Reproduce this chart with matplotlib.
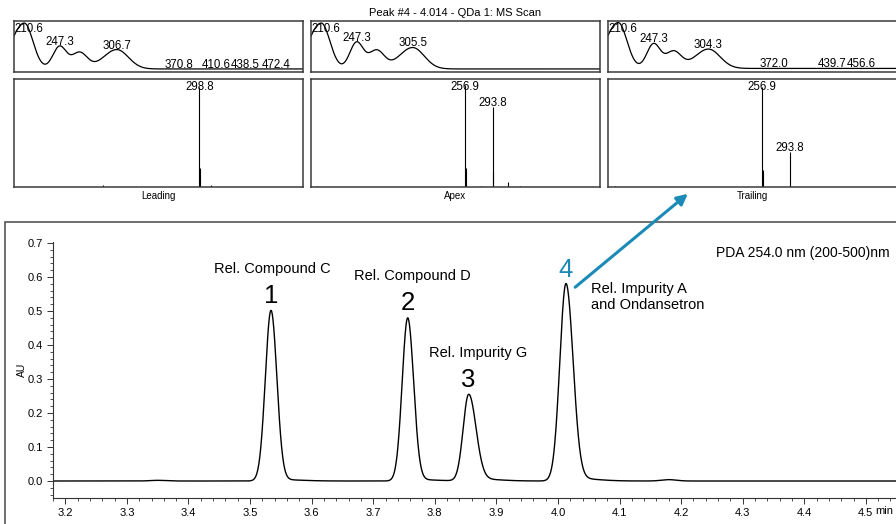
import numpy as np
import matplotlib.pyplot as plt
from matplotlib.patches import Rectangle, FancyArrowPatch
from matplotlib.ticker import MultipleLocator, FormatStrFormatter
from matplotlib.transforms import Affine2D

plt.rcParams['font.family'] = ['Liberation Sans', 'DejaVu Sans']

W, H = 896, 524
BLUE = '#1b8ab6'
EDGE = '#3a3a3a'

# --- chromatogram peak table (PDA 254 nm) ---
peak_nums = ['1', '2', '3', '4']
peak_names = ['Rel. Compound C', 'Rel. Compound D', 'Rel. Impurity G',
              'Rel. Impurity A\nand Ondansetron']
peak_rt = [3.534, 3.756, 3.855, 4.013]
peak_height = [0.500, 0.478, 0.252, 0.577]
peak_sigma_front = [0.0092, 0.0090, 0.0090, 0.0100]
peak_sigma_tail = [0.0095, 0.0096, 0.0118, 0.0115]
peak_tail_height = [0.004, 0.004, 0.006, 0.008]
bump_rt = [3.35, 4.18]
bump_height = [0.002, 0.004]

# --- UV spectra (leading / apex / trailing) as absorption bands ---
uv_center = [210.6, 247.3, 268.0]
uv_center_last = [306.7, 305.5, 304.3]
uv_heights = [[0.90, 0.44, 0.32, 0.38],
              [0.90, 0.52, 0.36, 0.42],
              [0.90, 0.48, 0.33, 0.38]]
uv_base = [0.06, 0.06, 0.07]
uv_labels = [[210.6, 247.3, 306.7, 370.8, 410.6, 438.5, 472.4],
             [210.6, 247.3, 305.5],
             [210.6, 247.3, 304.3, 372.0, 439.7, 456.6]]

# --- MS spectra (m/z, relative intensity) ---
ms_mz = [[169.0, 298.8, 299.8, 314.0],
         [58.0, 256.9, 257.9, 278.0, 293.8, 294.8, 314.0, 330.0],
         [60.0, 256.9, 257.9, 293.8]]
ms_int = [[0.02, 0.93, 0.18, 0.02],
          [0.01, 0.94, 0.18, 0.01, 0.74, 0.15, 0.05, 0.01],
          [0.01, 0.93, 0.16, 0.32]]
ms_labels = [[298.8], [256.9, 293.8], [256.9, 293.8]]
panel_names = ['Leading', 'Apex', 'Trailing']


def bigauss(x, c, h, sl, sr):
    s = np.where(x < c, sl, sr)
    return h * np.exp(-0.5 * ((x - c) / s) ** 2)


def px_axes(x0, y0, x1, y1):
    return fig.add_axes([x0 / W, 1 - y1 / H, (x1 - x0) / W, (y1 - y0) / H])


def uv_curve(x, i):
    centers = uv_center + [uv_center_last[i]]
    widths = [(13, 9), (7, 7), (8, 8), (14, 12)]
    y = np.full_like(x, uv_base[i])
    for c, h, (sl, sr) in zip(centers, uv_heights[i], widths):
        y += bigauss(x, c, h, sl, sr)
    return y


fig = plt.figure(figsize=(W / 100, H / 100), dpi=100)

fig.text(455 / W, 1 - 13 / H, 'Peak #4 - 4.014 - QDa 1: MS Scan',
         ha='center', va='center', fontsize=8)

panel_x = [(14, 303), (311, 600), (608, 897)]
wl = np.linspace(200, 500, 1201)
uv_axes = []
uv_texts = []
for i, (x0, x1) in enumerate(panel_x):
    # UV spectrum
    ax = px_axes(x0, 21, x1, 72)
    uv = uv_curve(wl, i)
    ax.plot(wl, uv, color='black', lw=0.9)
    ax.set_xlim(200, 500)
    ax.set_ylim(0, 1)
    texts = []
    for lam in uv_labels[i]:
        yv = uv_curve(np.array([lam]), i)[0]
        if lam < 215:
            ax.text(200.5, 0.97, f'{lam:.1f}', ha='left', va='top', fontsize=8.3)
        else:
            texts.append(ax.text(lam, yv + 0.02, f'{lam:.1f}', ha='center',
                                 va='baseline', fontsize=8.3))
    uv_axes.append(ax)
    uv_texts.append(texts)
    # MS spectrum
    ax2 = px_axes(x0, 79, x1, 187)
    ax2.vlines(ms_mz[i], 0, ms_int[i], color='black', lw=0.8)
    ax2.set_xlim(50, 438)
    ax2.set_ylim(0, 1)
    for mz in ms_labels[i]:
        inten = ms_int[i][ms_mz[i].index(mz)]
        if inten > 0.85:
            ax2.text(mz, 0.98, f'{mz:.1f}', ha='center', va='top', fontsize=8.3)
        else:
            ax2.text(mz, inten + 0.01, f'{mz:.1f}', ha='center', va='baseline', fontsize=8.3)
    for a in (ax, ax2):
        a.set_xticks([])
        a.set_yticks([])
        for s in a.spines.values():
            s.set_color(EDGE)
            s.set_linewidth(1.1)
    fig.text((x0 + x1) / 2 / W, 1 - 196 / H, panel_names[i],
             ha='center', va='center', fontsize=7)

# outer frame of the chromatogram panel
fig.add_artist(Rectangle((5 / W, -0.1), 1.2, 1 - 222 / H + 0.1,
                         transform=fig.transFigure, fill=False,
                         ec='#555555', lw=1.2))

# chromatogram
ax = px_axes(53, 242, 896, 498)
t = np.linspace(3.18, 4.56, 3000)
au = np.zeros_like(t)
for rt, h, sf, st, th in zip(peak_rt, peak_height, peak_sigma_front,
                             peak_sigma_tail, peak_tail_height):
    au += bigauss(t, rt, h, sf, st)
    au += bigauss(t, rt + 0.012, th, 0.01, 0.035)
for rt, h in zip(bump_rt, bump_height):
    au += bigauss(t, rt, h, 0.012, 0.012)
ax.plot(t, au, color='black', lw=1.0)
ax.set_xlim(3.18, 4.549)
ax.set_ylim(-0.05, 0.703)
ax.spines['top'].set_visible(False)
ax.spines['right'].set_visible(False)
for s in ('left', 'bottom'):
    ax.spines[s].set_color('#333333')
    ax.spines[s].set_linewidth(0.8)
ax.xaxis.set_major_locator(MultipleLocator(0.1))
ax.xaxis.set_minor_locator(MultipleLocator(0.02))
ax.yaxis.set_major_locator(MultipleLocator(0.1))
ax.yaxis.set_minor_locator(MultipleLocator(0.02))
ax.xaxis.set_major_formatter(FormatStrFormatter('%.1f'))
ax.yaxis.set_major_formatter(FormatStrFormatter('%.1f'))
ax.tick_params(which='major', length=4, width=0.7, color='#333333', labelsize=8, pad=3)
ax.tick_params(which='minor', length=2.2, width=0.6, color='#333333')
ax.set_ylabel('AU', fontsize=7.5, labelpad=1)
ax.annotate('min', xy=(4.5, 0), xycoords=('data', 'axes fraction'),
            xytext=(9, -13), textcoords='offset pixels',
            ha='left', va='center', fontsize=8)

ax.text(4.257, 0.659, 'PDA 254.0 nm (200-500)nm', ha='left', va='baseline', fontsize=10)

name_dx = [1, 5, 9, 25]
for k in range(4):
    color = BLUE if k == 3 else 'black'
    ax.annotate(peak_nums[k], xy=(peak_rt[k], peak_height[k]),
                xytext=(0, 8), textcoords='offset pixels',
                ha='center', va='baseline', fontsize=18.5, color=color)
    if k < 3:
        ax.annotate(peak_names[k], xy=(peak_rt[k], peak_height[k]),
                    xytext=(name_dx[k], 38), textcoords='offset pixels',
                    ha='center', va='baseline', fontsize=10.5)
    else:
        ax.annotate(peak_names[k], xy=(peak_rt[k], peak_height[k]),
                    xytext=(name_dx[k], -12), textcoords='offset pixels',
                    ha='left', va='center', fontsize=10.5, linespacing=1.15)

fig.add_artist(FancyArrowPatch((573 / W, 1 - 289 / H), (690 / W, 1 - 192 / H),
                               transform=fig.transFigure, arrowstyle='-|>',
                               mutation_scale=16, lw=2.2, color=BLUE))

# push apart UV labels that collide, like the instrument software does
fig.canvas.draw()
r = fig.canvas.get_renderer()
for ax_uv, texts in zip(uv_axes, uv_texts):
    for a, b in zip(texts[:-1], texts[1:]):
        ea = a.get_window_extent(r)
        eb = b.get_window_extent(r)
        ov = ea.x1 - eb.x0
        if ov > 0:
            a.set_transform(a.get_transform() + Affine2D().translate(-ov / 2, 0))
            b.set_transform(b.get_transform() + Affine2D().translate(ov / 2, 0))

fig.savefig('out.png', dpi=100)
